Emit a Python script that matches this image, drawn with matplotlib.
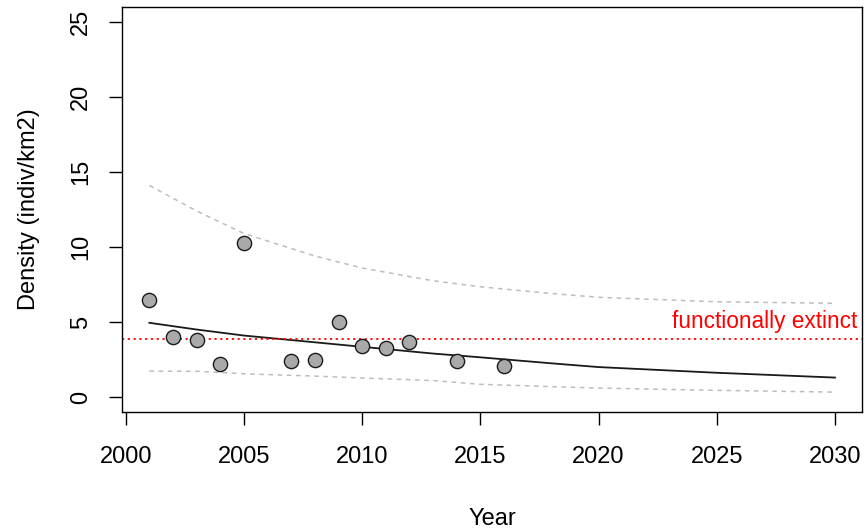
import numpy as np
import matplotlib.pyplot as plt

plt.rcParams["font.family"] = ["Liberation Sans", "DejaVu Sans"]

# observed densities
years = [2001, 2002, 2003, 2004, 2005, 2007, 2008, 2009, 2010, 2011, 2012, 2014, 2016]
density = [6.5, 4.0, 3.8, 2.2, 10.3, 2.4, 2.5, 5.0, 3.4, 3.3, 3.7, 2.4, 2.1]

# fitted trend and confidence band
fit_years = [2001, 2003, 2005, 2008, 2010, 2013, 2015, 2018, 2020, 2025, 2030]
fit = [4.95, 4.5, 4.1, 3.65, 3.35, 2.9, 2.65, 2.25, 2.0, 1.62, 1.3]
upper = [14.1, 12.4, 10.9, 9.4, 8.6, 7.75, 7.35, 6.9, 6.65, 6.35, 6.25]
lower = [1.73, 1.72, 1.55, 1.4, 1.27, 1.1, 0.85, 0.7, 0.6, 0.45, 0.33]

threshold = 3.9

fig, ax = plt.subplots(figsize=(8.65, 5.29), dpi=100)
fig.subplots_adjust(left=0.141, right=0.997, top=0.987, bottom=0.221)

ax.plot(fit_years, upper, color="#bdbdbd", lw=1.1, ls=(0, (3, 3)))
ax.plot(fit_years, lower, color="#bdbdbd", lw=1.1, ls=(0, (3, 3)))
ax.plot(fit_years, fit, color="#1a1a1a", lw=1.3)
ax.axhline(threshold, color="red", lw=1.3, ls=(0, (1.2, 2)))
ax.text(2030.95, 4.6, "functionally extinct", color="red",
        ha="right", va="baseline", fontsize=16.3)
ax.scatter(years, density, s=105, facecolor="#a9a9a9", edgecolor="#1a1a1a",
           linewidth=1.0, zorder=3)

ax.set_xlim(1999.84, 2031.16)
ax.set_ylim(-1, 26)
ax.set_xticks(range(2000, 2031, 5))
ax.set_yticks(range(0, 26, 5))
ax.tick_params(axis="both", labelsize=17, length=9.5, width=1, direction="out")
ax.tick_params(axis="x", pad=15)
ax.tick_params(axis="y", pad=12)
for lab in ax.get_yticklabels():
    lab.set_rotation(90)
    lab.set_va("center")
ax.set_xlabel("Year", fontsize=17, labelpad=29)
ax.set_ylabel("Density (indiv/km2)", fontsize=17, labelpad=22)
for sp in ax.spines.values():
    sp.set_linewidth(1)

plt.savefig("out.png", dpi=100)
